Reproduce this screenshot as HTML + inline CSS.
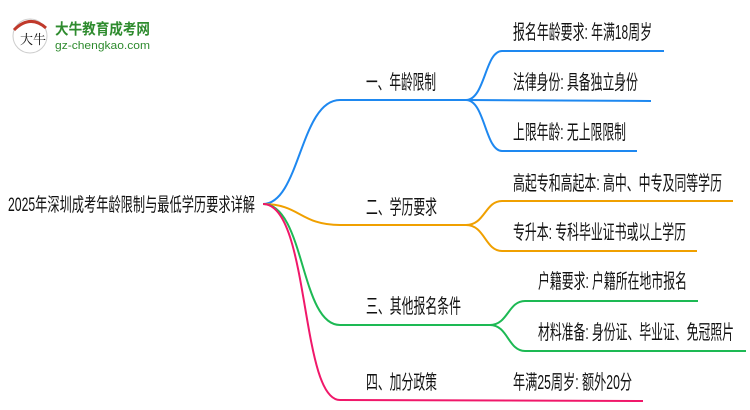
<!DOCTYPE html>
<html><head><meta charset="utf-8"><style>
html,body{margin:0;padding:0;background:#fff;width:750px;height:410px;overflow:hidden}
text{font-family:"Liberation Sans","Noto Sans CJK SC",sans-serif;fill:#111}
</style></head><body>
<svg width="750" height="410" xmlns="http://www.w3.org/2000/svg">
<circle cx="30" cy="36" r="17" fill="#fff" stroke="#ccc" stroke-width="1"/>
<path d="M14 30 Q30 14 46 28" stroke="#c0392b" stroke-width="3" fill="none"/>
<text x="20" y="44" font-size="13" style="font-family:'Noto Serif CJK SC',serif">大牛</text>
<text x="55" y="34" font-size="15" font-weight="bold" style="fill:#2e8b2e" textLength="95" lengthAdjust="spacingAndGlyphs">大牛教育成考网</text>
<text x="55" y="49" font-size="11" style="fill:#2e8b2e" textLength="95" lengthAdjust="spacingAndGlyphs">gz-chengkao.com</text>
<g fill="none" stroke-width="2">
<path d="M263 204 C300 204 300 100 340 100 L466 100" stroke="#1e88f0"/>
<path d="M466 100 C485 100 485 51 502 51 L664 51" stroke="#1e88f0"/>
<path d="M466 100 L651 101" stroke="#1e88f0"/>
<path d="M466 100 C485 100 485 151 502 151 L637 151" stroke="#1e88f0"/>
<path d="M263 204 C300 204 300 225 340 225 L466 225" stroke="#f0a000"/>
<path d="M466 225 C485 225 485 201 502 201 L733 201" stroke="#f0a000"/>
<path d="M466 225 C485 225 485 251 502 251 L697 251" stroke="#f0a000"/>
<path d="M263 204 C305 204 300 325 340 325 L490 325" stroke="#1db954"/>
<path d="M490 325 C508 325 508 301 525 301 L698 301" stroke="#1db954"/>
<path d="M490 325 C508 325 508 351 525 351 L746 351" stroke="#1db954"/>
<path d="M263 204 C310 204 300 400 340 400 L643 401" stroke="#f0186a"/>
</g>
<text x="8" y="211" font-size="19" textLength="247" lengthAdjust="spacingAndGlyphs">2025年深圳成考年龄限制与最低学历要求详解</text>
<g font-size="20">
<text x="366" y="89" textLength="70" lengthAdjust="spacingAndGlyphs">一、年龄限制</text>
<text x="366" y="214" textLength="71" lengthAdjust="spacingAndGlyphs">二、学历要求</text>
<text x="366" y="313" textLength="95" lengthAdjust="spacingAndGlyphs">三、其他报名条件</text>
<text x="366" y="389" textLength="71" lengthAdjust="spacingAndGlyphs">四、加分政策</text>
<text x="513" y="39" textLength="139" lengthAdjust="spacingAndGlyphs">报名年龄要求: 年满18周岁</text>
<text x="513" y="89" textLength="125" lengthAdjust="spacingAndGlyphs">法律身份: 具备独立身份</text>
<text x="513" y="139" textLength="113" lengthAdjust="spacingAndGlyphs">上限年龄: 无上限限制</text>
<text x="513" y="190" textLength="209" lengthAdjust="spacingAndGlyphs">高起专和高起本: 高中、中专及同等学历</text>
<text x="513" y="239" textLength="173" lengthAdjust="spacingAndGlyphs">专升本: 专科毕业证书或以上学历</text>
<text x="538" y="288" textLength="149" lengthAdjust="spacingAndGlyphs">户籍要求: 户籍所在地市报名</text>
<text x="538" y="339" textLength="196" lengthAdjust="spacingAndGlyphs">材料准备: 身份证、毕业证、免冠照片</text>
<text x="513" y="389" textLength="119" lengthAdjust="spacingAndGlyphs">年满25周岁: 额外20分</text>
</g>
</svg>
</body></html>
